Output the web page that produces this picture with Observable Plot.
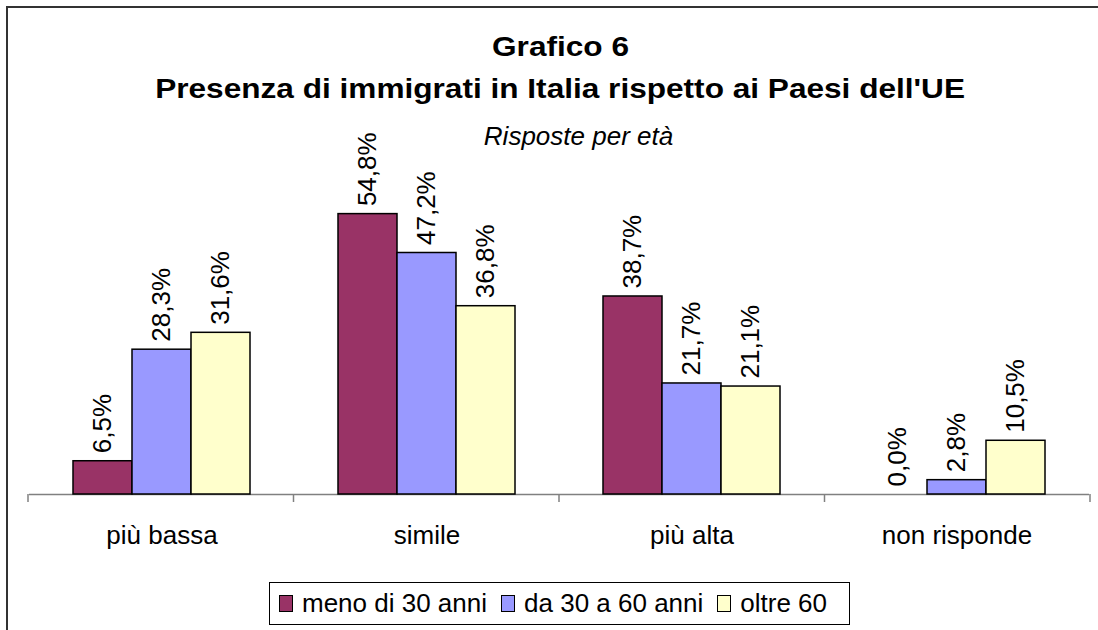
<!DOCTYPE html>
<html>
<head>
<meta charset="utf-8">
<script src="https://cdn.jsdelivr.net/npm/d3@7"></script>
<script src="https://cdn.jsdelivr.net/npm/@observablehq/plot@0.6"></script>
<style>
  html, body { margin: 0; padding: 0; background: #fff; overflow: hidden; }
  body { width: 1098px; height: 630px; position: relative; font-family: "Liberation Sans", Arial, sans-serif; color: #000; }
  #frame { position: absolute; left: 6px; top: 6px; width: 1200px; height: 700px; border: 2px solid #333; box-sizing: border-box; }
  .t { position: absolute; left: 0; width: 1121px; text-align: center; line-height: 1; white-space: nowrap; }
  .t span { display: inline-block; transform-origin: center; }
  #t1 { top: 34px; font-size: 27px; font-weight: bold; }
  #t1 span, #t2 span { transform: scaleX(1.17); }
  #t2 { top: 76px; font-size: 27px; font-weight: bold; }
  #t3 { top: 123px; left: 18px; font-size: 26px; font-style: italic; }
  #chart { position: absolute; left: 0; top: 0; }
  #legend { position: absolute; left: 269px; top: 582px; width: 581px; height: 43px; border: 1px solid #000; box-sizing: border-box; display: flex; align-items: center; padding-left: 9px; font-size: 26px; white-space: nowrap; background: #fff; }
  .item { display: flex; align-items: center; margin-right: 14px; }
  .sw { width: 14px; height: 17px; border: 1.5px solid #000; box-sizing: border-box; margin-right: 9px; }
</style>
</head>
<body>
<div id="frame"></div>
<div class="t" id="t1"><span>Grafico 6</span></div>
<div class="t" id="t2"><span>Presenza di immigrati in Italia rispetto ai Paesi dell'UE</span></div>
<div class="t" id="t3"><span>Risposte per età</span></div>
<div id="chart"></div>
<div id="legend"></div>
<script>
const categories = ["più bassa", "simile", "più alta", "non risponde"];
const series = ["meno di 30 anni", "da 30 a 60 anni", "oltre 60"];
const meno30 = [6.5, 54.8, 38.7, 0.0];
const da30a60 = [28.3, 47.2, 21.7, 2.8];
const oltre60 = [31.6, 36.8, 21.1, 10.5];
const colors = ["#993366", "#9999FF", "#FFFFCC"];

const seriesValues = [meno30, da30a60, oltre60];
const rows = [];
categories.forEach((c, i) => {
  series.forEach((s, j) => rows.push({category: c, series: s, value: seriesValues[j][i]}));
});
const fmt = v => v.toFixed(1).replace(".", ",") + "%";

const chart = Plot.plot({
  width: 1098,
  height: 554,
  marginTop: 187,
  marginBottom: 60,
  marginLeft: 28,
  marginRight: 8,
  style: {fontFamily: "'Liberation Sans', Arial, sans-serif", fontSize: "26px", color: "#000", background: "transparent", overflow: "visible"},
  facet: {data: rows, x: "category"},
  fx: {domain: categories, padding: 0, label: null, axis: "bottom", tickSize: 0, tickPadding: 31},
  x: {domain: series, axis: null, paddingInner: 0, paddingOuter: 0.742},
  y: {domain: [0, 60], axis: null},
  color: {domain: series, range: colors},
  marks: [
    Plot.ruleY([0], {stroke: "#808080", strokeWidth: 1.5}),
    Plot.barY(rows, {x: "series", y: "value", fill: "series", stroke: "#000", strokeWidth: 1.5, filter: d => d.value > 0}),
    Plot.text(rows, {x: "series", y: "value", text: d => fmt(d.value), rotate: -90, textAnchor: "start", dy: -8, fill: "#000"})
  ]
});
document.getElementById("chart").appendChild(chart);

// boundary ticks on the category axis, from the plot's own fx and y scales
const fxs = chart.scale("fx");
const ys = chart.scale("y");
const band = d3.scaleBand().domain(fxs.domain).range(fxs.range).padding(0);
const bounds = fxs.domain.map(c => band(c)).concat([band(fxs.domain[fxs.domain.length - 1]) + band.bandwidth()]);
const y0 = ys.range[0];
d3.select(chart).append("g")
  .attr("stroke", "#808080").attr("stroke-width", 1.5)
  .selectAll("line").data(bounds).join("line")
  .attr("x1", d => d).attr("x2", d => d)
  .attr("y1", y0).attr("y2", y0 + 8);

// legend
const color = chart.scale("color");
const legend = d3.select("#legend");
series.forEach((s, i) => {
  const it = legend.append("div").attr("class", "item");
  it.append("div").attr("class", "sw").style("background", color.range[i]);
  it.append("span").text(s);
});
</script>
</body>
</html>
